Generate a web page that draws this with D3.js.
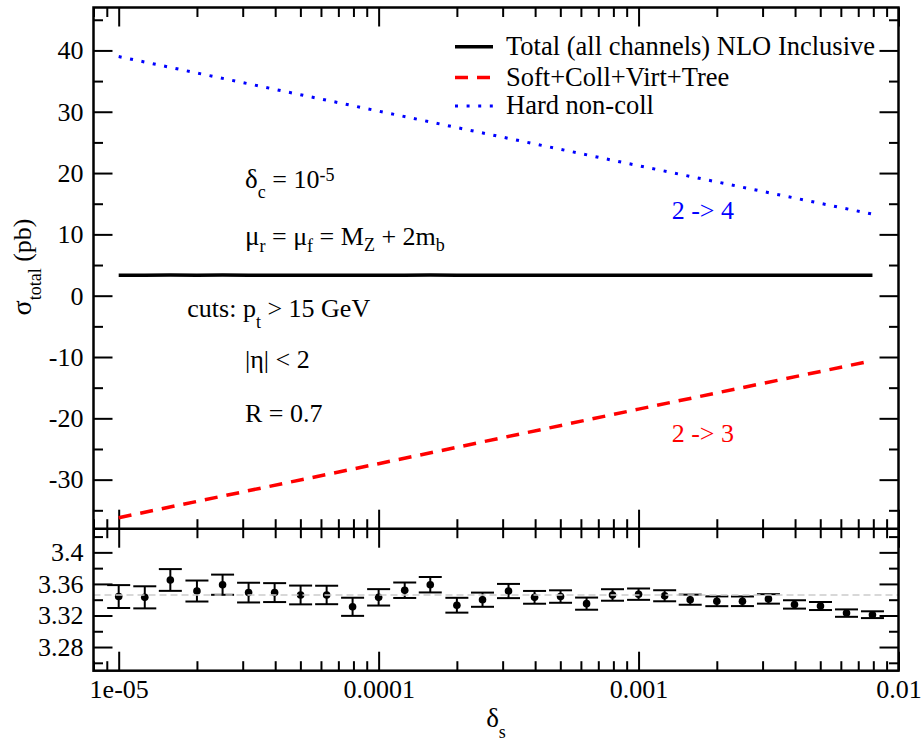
<!DOCTYPE html>
<html>
<head>
<meta charset="utf-8">
<style>
  body { margin: 0; background: #fff; }
  svg, svg text, svg tspan { font-family: 'Liberation Serif', 'Times New Roman', Times, serif; }
</style>
</head>
<body>
<div id="chart"></div>
<script src="https://d3js.org/d3.v7.min.js"></script>
<script>
// scan points in delta_s (0.1 decade steps)
var deltaS = [1.00e-5, 1.26e-5, 1.58e-5, 2.00e-5, 2.51e-5, 3.16e-5, 3.98e-5, 5.01e-5, 6.31e-5, 7.94e-5,
              1.00e-4, 1.26e-4, 1.58e-4, 2.00e-4, 2.51e-4, 3.16e-4, 3.98e-4, 5.01e-4, 6.31e-4, 7.94e-4,
              1.00e-3, 1.26e-3, 1.58e-3, 2.00e-3, 2.51e-3, 3.16e-3, 3.98e-3, 5.01e-3, 6.31e-3, 7.94e-3];
// total NLO cross section (pb) and its MC error
var totalVals = [3.344, 3.343, 3.365, 3.351, 3.359, 3.349, 3.349, 3.346, 3.346, 3.331,
                 3.343, 3.352, 3.359, 3.333, 3.340, 3.351, 3.343, 3.344, 3.335, 3.346,
                 3.347, 3.345, 3.340, 3.338, 3.338, 3.341, 3.334, 3.332, 3.323, 3.321];
var totalErrs = [0.0145, 0.0140, 0.0138, 0.0133, 0.0128, 0.0125, 0.0120, 0.0119, 0.0117, 0.0115,
                 0.0104, 0.0098, 0.0098, 0.0094, 0.0090, 0.0090, 0.0081, 0.0079, 0.0077, 0.0073,
                 0.0072, 0.0070, 0.0064, 0.0062, 0.0061, 0.0060, 0.0053, 0.0051, 0.0047, 0.0043];
// 2 -> 4 (hard non-collinear) and 2 -> 3 (soft+coll+virt+tree) parts
var hardX = [1e-5, 1e-4, 1e-3, 7.94e-3];
var hardVals = [39.0, 30.1, 21.2, 13.3];
var softX = [1e-5, 1e-4, 1e-3, 7.94e-3];
var softVals = [-36.2, -27.4, -18.5, -10.6];
var meanVal = 3.346;

var xTickVals = [1e-5, 1e-4, 1e-3, 1e-2];
var xTickLabels = ["1e-05", "0.0001", "0.001", "0.01"];
var topTicks = [-30, -20, -10, 0, 10, 20, 30, 40];
var topMinor = [-35, -25, -15, -5, 5, 15, 25, 35, 45];
var botTicks = [3.28, 3.32, 3.36, 3.4];
var botTickLabels = ["3.28", "3.32", "3.36", "3.4"];
var botMinor = [3.26, 3.30, 3.34, 3.38, 3.42];
var legendNames = ["Total (all channels) NLO Inclusive", "Soft+Coll+Virt+Tree", "Hard non-coll"];

var W = 924, H = 742;
var L = 93.5, R = 898.5, T = 7.5, M = 528.7, B = 670.7;
var FONT = "'Liberation Serif', 'Times New Roman', Times, serif";

var svg = d3.select("#chart").append("svg")
    .attr("width", W).attr("height", H)
    .style("background", "#fff")
    .style("font-family", FONT);

var x = d3.scaleLog().domain([8e-6, 1e-2]).range([L, R]);
var yTop = d3.scaleLinear().domain([-38, 47]).range([M, T]);
var yBot = d3.scaleLinear().domain([3.25, 3.43]).range([B, M]);

var xMinor = x.ticks().filter(function(d) { return xTickVals.indexOf(d) < 0; });

function addAxis(axisFn, scale, pos, vals, size, labels, pad) {
    var a = axisFn(scale).tickValues(vals).tickSizeInner(-size).tickSizeOuter(0).tickPadding(pad || 10);
    a.tickFormat(labels ? function(d, i) { return labels[i]; } : function() { return ""; });
    var g = svg.append("g").attr("transform", pos).call(a);
    g.attr("font-family", null).attr("font-size", null);
    g.select(".domain").remove();
    g.selectAll(".tick line").attr("stroke", "#000").attr("stroke-width", 2);
    g.selectAll(".tick text").attr("fill", "#000")
        .style("font-family", FONT).style("font-size", "26px");
    return g;
}

var MAJ = 19, MIN = 9.5;
// upper panel
addAxis(d3.axisLeft, yTop, "translate(" + L + ",0)", topTicks, MAJ, topTicks.map(String));
addAxis(d3.axisLeft, yTop, "translate(" + L + ",0)", topMinor, MIN);
addAxis(d3.axisRight, yTop, "translate(" + R + ",0)", topTicks, MAJ);
addAxis(d3.axisRight, yTop, "translate(" + R + ",0)", topMinor, MIN);
addAxis(d3.axisTop, x, "translate(0," + T + ")", xTickVals, MAJ);
addAxis(d3.axisTop, x, "translate(0," + T + ")", xMinor, MIN);
addAxis(d3.axisBottom, x, "translate(0," + M + ")", xTickVals, MAJ);
addAxis(d3.axisBottom, x, "translate(0," + M + ")", xMinor, MIN);
// lower panel
addAxis(d3.axisLeft, yBot, "translate(" + L + ",0)", botTicks, MAJ, botTickLabels);
addAxis(d3.axisLeft, yBot, "translate(" + L + ",0)", botMinor, MIN);
addAxis(d3.axisRight, yBot, "translate(" + R + ",0)", botTicks, MAJ);
addAxis(d3.axisRight, yBot, "translate(" + R + ",0)", botMinor, MIN);
addAxis(d3.axisTop, x, "translate(0," + M + ")", xTickVals, MAJ);
addAxis(d3.axisTop, x, "translate(0," + M + ")", xMinor, MIN);
addAxis(d3.axisBottom, x, "translate(0," + B + ")", xTickVals, MAJ, xTickLabels, 9);
addAxis(d3.axisBottom, x, "translate(0," + B + ")", xMinor, MIN);

// series in upper panel
var line = d3.line().x(function(d) { return x(d[0]); }).y(function(d) { return yTop(d[1]); });
var series = [
    { name: legendNames[0], pts: d3.zip(deltaS, totalVals), color: "#000000", width: 3.5, dash: null },
    { name: legendNames[1], pts: d3.zip(softX, softVals), color: "#ff0000", width: 3.5, dash: "13 9" },
    { name: legendNames[2], pts: d3.zip(hardX, hardVals), color: "#0000ff", width: 3, dash: "3 8.6" }
];
series.forEach(function(s) {
    svg.append("path")
        .attr("d", line(s.pts))
        .attr("fill", "none")
        .attr("stroke", s.color)
        .attr("stroke-width", s.width)
        .attr("stroke-dasharray", s.dash);
});

// legend
var legY = [46.7, 77.5, 106];
var leg = svg.selectAll(".leg").data(series).enter().append("g")
    .attr("transform", function(d, i) { return "translate(455," + legY[i] + ")"; });
leg.append("line")
    .attr("x1", 0).attr("x2", 38).attr("y1", 0).attr("y2", 0)
    .attr("stroke", function(d) { return d.color; })
    .attr("stroke-width", function(d) { return d.width; })
    .attr("stroke-dasharray", function(d) { return d.dash; });
leg.append("text")
    .attr("x", 51).attr("y", 8)
    .style("font-family", FONT)
    .style("font-size", "26.5px")
    .style("fill", "#000")
    .text(function(d) { return d.name; });

// rich text helper: parts = [text, baseline offset, size]
function rich(parent, px, py, parts, anchor, color) {
    var t = parent.append("text").attr("x", px).attr("y", py)
        .attr("text-anchor", anchor || "start")
        .style("font-family", FONT)
        .style("fill", color || "#000");
    var prev = 0;
    parts.forEach(function(p) {
        t.append("tspan").attr("dy", p[1] - prev).style("font-size", p[2] + "px").text(p[0]);
        prev = p[1];
    });
    return t;
}

rich(svg, 245, 188.3, [["δ", 0, 27], ["c", 10, 18], [" = 10", 0, 26], ["-5", -7, 18]]);
rich(svg, 245, 245, [["μ", 0, 27], ["r", 7, 18], [" = μ", 0, 26], ["f", 7, 18],
                     [" = M", 0, 26], ["Z", 6, 18], [" + 2m", 0, 26], ["b", 6, 18]]);
rich(svg, 187.3, 316.7, [["cuts: p", 0, 26], ["t", 11, 18], [" > 15 GeV", 0, 26]]);
rich(svg, 245, 368.3, [["|η| < 2", 0, 26]]);
rich(svg, 245, 421.7, [["R = 0.7", 0, 26]]);
rich(svg, 671.7, 219.3, [["2 -> 4", 0, 26]], "start", "#0000ff");
rich(svg, 671.7, 441.7, [["2 -> 3", 0, 26]], "start", "#ff0000");

// axis titles
var yl = svg.append("g").attr("transform", "translate(31,267) rotate(-90)");
rich(yl, 0, 0, [["σ", 0, 28], ["total", 9.7, 18], [" (pb)", 0, 26]], "middle");
rich(svg, 496, 727.3, [["δ", 0, 27], ["s", 11, 18]], "middle");

// lower panel: error bars
var pts = d3.zip(deltaS, totalVals, totalErrs);
var eb = svg.append("g").attr("stroke", "#000").attr("stroke-width", 2);
eb.selectAll(".v").data(pts).enter().append("line")
    .attr("x1", function(d) { return x(d[0]); }).attr("x2", function(d) { return x(d[0]); })
    .attr("y1", function(d) { return yBot(d[1] - d[2]); })
    .attr("y2", function(d) { return yBot(d[1] + d[2]); });
[-1, 1].forEach(function(sgn) {
    eb.selectAll(".cap" + sgn).data(pts).enter().append("line")
        .attr("x1", function(d) { return x(d[0]) - 11.5; })
        .attr("x2", function(d) { return x(d[0]) + 11.5; })
        .attr("y1", function(d) { return yBot(d[1] + sgn * d[2]); })
        .attr("y2", function(d) { return yBot(d[1] + sgn * d[2]); });
});
svg.append("g").selectAll("circle").data(pts).enter().append("circle")
    .attr("cx", function(d) { return x(d[0]); })
    .attr("cy", function(d) { return yBot(d[1]); })
    .attr("r", 3.8)
    .attr("fill", "#000");

// mean value reference
svg.append("line")
    .attr("x1", L).attr("x2", R)
    .attr("y1", yBot(meanVal)).attr("y2", yBot(meanVal))
    .attr("stroke", "#cccccc").attr("stroke-width", 1.5)
    .attr("stroke-dasharray", "7 4");

// frames
svg.append("rect").attr("x", L).attr("y", T).attr("width", R - L).attr("height", B - T)
    .attr("fill", "none").attr("stroke", "#000").attr("stroke-width", 2.5);
svg.append("line").attr("x1", L).attr("x2", R).attr("y1", M).attr("y2", M)
    .attr("stroke", "#000").attr("stroke-width", 2.5);
</script>
</body>
</html>
